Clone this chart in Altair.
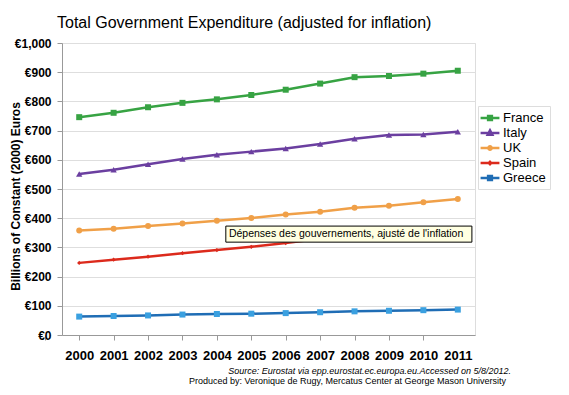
import altair as alt
import pandas as pd

years = list(range(2000, 2012))
series = ["France", "Italy", "UK", "Spain", "Greece"]
france = [746, 761, 780, 795, 807, 822, 840, 861, 883, 887, 895, 905]
italy = [551, 566, 585, 603, 617, 628, 639, 654, 672, 685, 687, 696]
uk = [358, 364, 373, 382, 391, 401, 413, 422, 436, 443, 455, 466]
spain = [247, 258, 268, 280, 291, 302, 315, 330, 345, 360, 358, 352]
greece = [63, 65, 67, 70, 72, 73, 75, 78, 81, 83, 85, 87]
colors = ["#37a343", "#6b3fa0", "#f0a048", "#dc2a1c", "#1f6db5"]
marker_colors = ["#37a343", "#6b3fa0", "#f0a048", "#dc2a1c", "#3aa0e0"]
marker_shapes = ["square", "triangle-up", "circle", "diamond", "square"]
marker_sizes = [36, 40, 36, 18, 36]
y_ticks = list(range(0, 1001, 100))
x_ticks = list(range(2000, 2013))

title_text = "Total Government Expenditure (adjusted for inflation)"
y_title = "Billions of Constant (2000) Euros"
source1 = "Source: Eurostat via  epp.eurostat.ec.europa.eu.Accessed on 5/8/2012."
source2 = "Produced by: Veronique de Rugy, Mercatus Center at George Mason University"
tip_text = "Dépenses des gouvernements, ajusté de l'inflation"

rows = []
for name, vals in zip(series, [france, italy, uk, spain, greece]):
    for yr, v in zip(years, vals):
        rows.append({"year": yr, "value": v, "series": name})
df = pd.DataFrame(rows)

FONT = "Liberation Sans"
xscale = alt.Scale(domain=[1999.5, 2011.5], nice=False, zero=False)
yscale = alt.Scale(domain=[0, 1000], nice=False)
cscale = alt.Scale(domain=series, range=colors)

band = 413 / 12.0

# legend symbols: a line segment with a small (stroked) marker on it
legend_paths = [
    "M-1.45,0H1.45M-0.29,-0.29H0.29V0.29H-0.29Z",
    "M-1.45,0H1.45M0,-0.4L0.35,0.25H-0.35Z",
    "M-1.45,0H1.45M-0.26,0A0.26,0.26,0,1,1,0.26,0A0.26,0.26,0,1,1,-0.26,0Z",
    "M-1.45,0H1.45M0,-0.18L0.18,0L0,0.18L-0.18,0Z",
    "M-1.45,0H1.45M-0.29,-0.29H0.29V0.29H-0.29Z",
]

legend = alt.Legend(
    title=None, orient="none", legendX=416, legendY=63,
    labelFont=FONT, labelFontSize=13, labelColor="black",
    symbolSize=169, rowPadding=0, labelOffset=5, padding=4,
    strokeColor="#dddddd", fillColor="white",
    symbolOpacity=1, symbolStrokeWidth=2.5,
)

x_axis = alt.Axis(
    values=x_ticks, format="d", title=None, grid=False,
    tickOffset=-band, labelOffset=band,
    labelExpr="datum.value > 2011 ? '' : datum.label",
    labelFont=FONT, labelFontSize=13, labelFontWeight="bold", labelColor="black",
    labelPadding=9, tickSize=5, tickColor="#999999", domainColor="#999999",
    labelFlush=False, labelOverlap=False, labelBound=False)
y_axis = alt.Axis(
    values=y_ticks, title=y_title,
    labelExpr="'€' + format(datum.value, ',')",
    labelFont=FONT, labelFontSize=12, labelFontWeight="bold", labelColor="black",
    labelPadding=6, tickSize=5, tickColor="#999999", domainColor="#999999",
    gridColor="#dedede", labelOverlap=False,
    titleFont=FONT, titleFontSize=12, titleFontWeight="bold",
    titleColor="black", titleX=-47, titleY=153, titleBaseline="middle",
    titleAlign="center", titleAngle=270)


def X(f):
    return alt.X(f, scale=xscale, axis=x_axis)


def Y(f):
    return alt.Y(f, scale=yscale, axis=y_axis)


base = alt.Chart(df)

# layer with no drawn marks (all rows filtered out): it only supplies the legend
legend_layer = base.transform_filter("false").mark_point(
    opacity=1, filled=False, strokeWidth=2.5).encode(
    x=X("year:Q"), y=Y("value:Q"),
    color=alt.Color("series:N", scale=cscale, sort=series, legend=legend),
    shape=alt.Shape("series:N", scale=alt.Scale(domain=series, range=legend_paths), sort=series, legend=legend),
)

lines = base.mark_line(strokeWidth=2.5).encode(
    x=X("year:Q"), y=Y("value:Q"),
    color=alt.Color("series:N", scale=cscale, sort=series, legend=None),
    order="year:Q",
)

point_layers = []
for name, shp, mc, sz in zip(series, marker_shapes, marker_colors, marker_sizes):
    point_layers.append(
        base.transform_filter(alt.datum.series == name)
        .mark_point(filled=True, opacity=1, shape=shp, size=sz, color=mc)
        .encode(x=X("year:Q"), y=Y("value:Q"))
    )

tip = pd.DataFrame({"x": [2004.26], "x2": [2011.41], "y": [318], "y2": [373],
                    "tx": [2004.35], "ty": [346], "t": [tip_text]})
tip_box = alt.Chart(tip).mark_rect(fill="#ffffe1", stroke="black", strokeWidth=1).encode(
    x=X("x:Q"), x2="x2:Q", y=Y("y:Q"), y2="y2:Q")
tip_label = alt.Chart(tip).mark_text(align="left", baseline="middle", font=FONT,
                                     fontSize=10.5, color="black").encode(
    x=X("tx:Q"), y=Y("ty:Q"), text="t:N")

src = pd.DataFrame({"t1": [source1], "t2": [source2]})
s1 = alt.Chart(src).mark_text(align="right", baseline="alphabetic", font=FONT,
                              fontSize=9, fontStyle="italic", color="black").encode(
    x=alt.value(449), y=alt.value(331), text="t1:N")
s2 = alt.Chart(src).mark_text(align="right", baseline="alphabetic", font=FONT,
                              fontSize=9, color="black").encode(
    x=alt.value(444), y=alt.value(341), text="t2:N")

chart = alt.layer(legend_layer, lines, *point_layers, tip_box, tip_label, s1, s2).properties(
    width=413, height=292,
    title=alt.Title(title_text, anchor="start", frame="group", font=FONT, fontSize=16,
                    fontWeight="normal", color="black", dx=-5, offset=6),
    autosize=alt.AutoSizeParams(type="none"),
    padding={"left": 54, "top": 35, "right": 86, "bottom": 52},
).configure_view(stroke="#a0a0a0", strokeWidth=1.5).configure(background="white")

chart.save("out.html", embed_options={"renderer": "svg", "actions": False})
